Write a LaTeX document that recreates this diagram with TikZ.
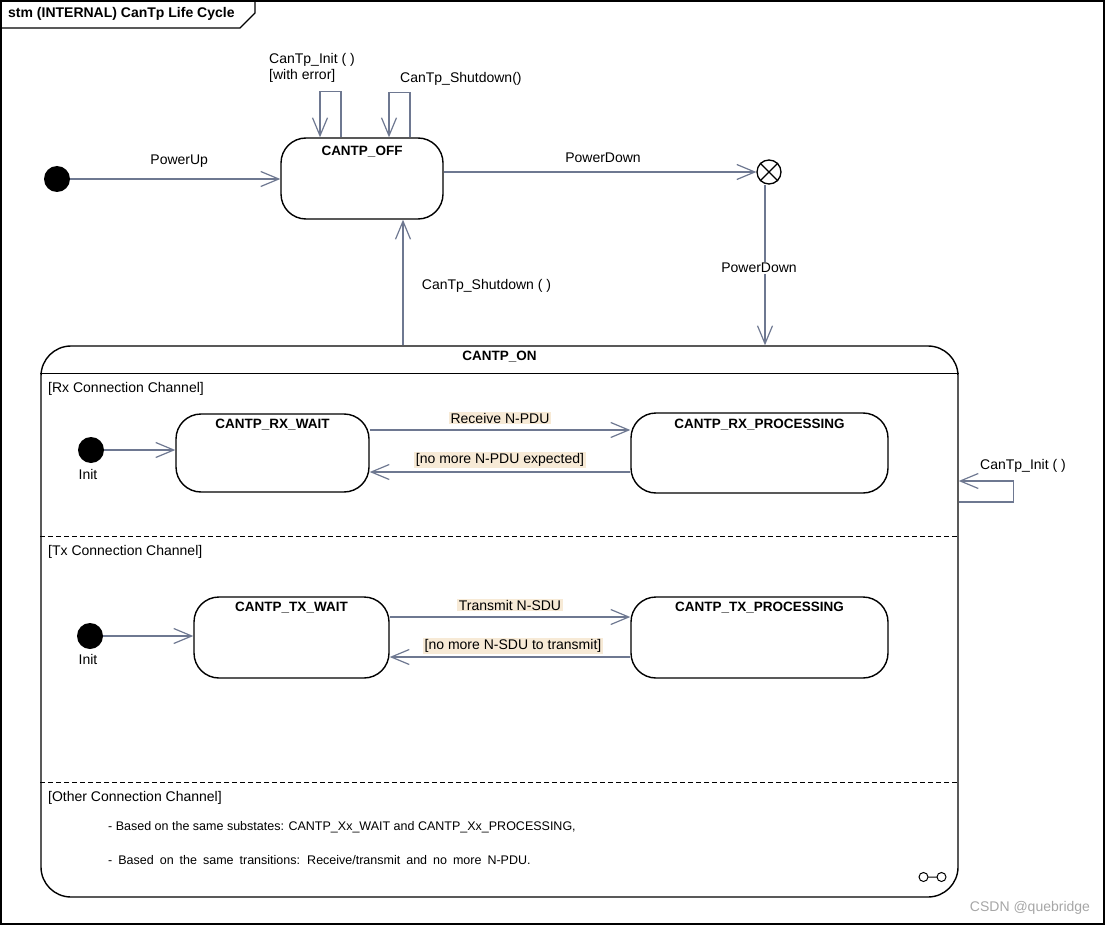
\documentclass[tikz,border=0pt]{standalone}
\usepackage{fontspec}
\setmainfont{Liberation Sans}
\usetikzlibrary{arrows.meta}
\definecolor{linkgray}{HTML}{6E7891}
\definecolor{guardbg}{HTML}{F7EAD6}

\begin{document}
\begin{tikzpicture}[x=1pt,y=-1pt,
  every node/.style={font=\fontsize{14}{16}\selectfont},
  state/.style={draw,line width=1.4pt,rounded corners=25pt,inner sep=0pt},
  sttitle/.style={anchor=north,inner sep=0pt,yshift=-6pt,font=\fontsize{13.5}{16}\selectfont\bfseries},
  init/.style={circle,fill,inner sep=0pt,minimum size=26pt},
  trans/.style={draw=linkgray,line width=1.2pt,-{Straight Barb[length=18pt,width=15pt]}},
  guard/.style={fill=guardbg,inner xsep=2pt,inner ysep=1pt},
  region/.style={anchor=west,inner sep=0pt}]
\useasboundingbox (0,0) rectangle (1105,925);

% frame
\draw[line width=1.3pt] (1,1) rectangle (1104,924);
\draw[line width=1.3pt] (1,28) -- (240,28) -- (255,13) -- (255,1);
\node[anchor=west,inner sep=0pt,font=\fontsize{14}{16}\selectfont\bfseries] (hdr) at (8,14) {stm (INTERNAL) CanTp Life Cycle};

% top level
\node[init] (start) at (57,179) {};
\node[state,minimum width=162pt,minimum height=81pt] (off) at (362,178.5) {};
\node[sttitle,yshift=-3pt] (off_t) at (off.north) {CANTP\_OFF};
\node[circle,draw,line width=1.3pt,inner sep=0pt,minimum size=24pt] (fin) at (769,172) {};
\draw[line width=1.1pt] (fin.north west) -- (fin.south east) (fin.north east) -- (fin.south west);

\node[state,rounded corners=30pt,minimum width=917pt,minimum height=551pt] (on) at (499.5,621.5) {};
\node[sttitle] (on_t) at (on.north) {CANTP\_ON};
\draw[line width=1.3pt] ([yshift=-28]on.north west) -- ([yshift=-28]on.north east);
\draw[dashed,dash pattern=on 5pt off 3pt,line width=1.1pt] ([yshift=-191]on.north west) -- ([yshift=-191]on.north east);
\draw[dashed,dash pattern=on 5pt off 3pt,line width=1.1pt] ([yshift=-437]on.north west) -- ([yshift=-437]on.north east);

\draw[trans] (start) -- (start -| off.west) node[midway,yshift=18pt,xshift=4pt] {PowerUp};
\path ([yshift=6.5]off.east) coordinate (off_e);
\draw[trans] (off_e) -- (fin) node[midway,yshift=14pt,xshift=3pt] {PowerDown};
\path ([xshift=-4]fin.south) coordinate (fin_s);
\draw[trans] (fin_s) -- (fin_s |- on.north) node[midway,fill=white,inner sep=1pt,yshift=-3pt,xshift=-6pt] {PowerDown};
\path ([xshift=-96.5]on.north) coordinate (on_n);
\draw[trans] (on_n) -- (on_n |- off.south) node[midway,anchor=west,xshift=15pt,yshift=-3pt] {CanTp\_Shutdown ( )};

% self transitions
\draw[trans] ([xshift=-21]off.north) -- ++(0,-46) -| ([xshift=-42]off.north);
\draw[trans] ([xshift=48]off.north) -- ++(0,-45) -| ([xshift=27]off.north);
\node[anchor=west,align=left,inner sep=0pt] (lbl_init) at (269,68) {CanTp\_Init ( )\\{}[with error]};
\node[anchor=west,inner sep=0pt] (lbl_shut) at (400,79) {CanTp\_Shutdown()};
\draw[trans] ([yshift=119.5]on.east) -- ++(55,0) |- ([yshift=140.5]on.east);
\node[anchor=west,inner sep=0pt] (lbl_init2) at (980,466) {CanTp\_Init ( )};

% Rx region
\node[region] (rx_r) at (48,389) {[Rx Connection Channel]};
\node[init] (rxinit) at (91,450) {};
\node (rxinit_l) at (88,474) {Init};
\node[state,minimum width=193pt,minimum height=78pt] (rxwait) at (272.5,453) {};
\node[sttitle] at (rxwait.north) {CANTP\_RX\_WAIT};
\node[state,minimum width=257pt,minimum height=80pt] (rxproc) at (759.5,453) {};
\node[sttitle,yshift=-1pt] at (rxproc.north) {CANTP\_RX\_PROCESSING};
\draw[trans] (rxinit) -- (rxinit -| rxwait.west);
\path ([yshift=23]rxwait.east) coordinate (rx_a) ([yshift=-19]rxproc.west) coordinate (rx_b);
\draw[trans] (rx_a) -- (rx_a -| rxproc.west) node[midway,guard,yshift=12pt] {Receive N-PDU};
\draw[trans] (rx_b) -- (rx_b -| rxwait.east) node[midway,guard,yshift=12pt] {[no more N-PDU expected]};

% Tx region
\node[region] (tx_r) at (48,552) {[Tx Connection Channel]};
\node[init] (txinit) at (90,636) {};
\node (txinit_l) at (88,659) {Init};
\node[state,minimum width=195pt,minimum height=81pt] (txwait) at (291.5,637.5) {};
\node[sttitle] at (txwait.north) {CANTP\_TX\_WAIT};
\node[state,minimum width=257pt,minimum height=81pt] (txproc) at (759.5,637.5) {};
\node[sttitle] at (txproc.north) {CANTP\_TX\_PROCESSING};
\draw[trans] (txinit) -- (txinit -| txwait.west);
\path ([yshift=20.5]txwait.east) coordinate (tx_a) ([yshift=-19.5]txproc.west) coordinate (tx_b);
\draw[trans] (tx_a) -- (tx_a -| txproc.west) node[midway,guard,yshift=12pt] {Transmit N-SDU};
\draw[trans] (tx_b) -- (tx_b -| txwait.east) node[midway,guard,yshift=11pt,xshift=3pt] {[no more N-SDU to transmit]};

% other region
\node[region] (oth_r) at (48,798) {[Other Connection Channel]};
\node[region,font=\fontsize{12.5}{15}\selectfont] (oth_1) at (108,827) {- Based on the same substates: CANTP\_Xx\_WAIT and CANTP\_Xx\_PROCESSING,};
\node[region,font=\fontsize{12.5}{15}\selectfont] (oth_2) at (108,860) {\spaceskip=6pt\relax - Based on the same transitions: Receive/transmit and no more N-PDU.};

% composite icon
\draw[line width=1pt] (923.5,877) circle[radius=4.5pt] (941.5,877) circle[radius=4.5pt] (928,877) -- (937,877);

\node[text=gray!70] (wm) at (1030,908) {CSDN @quebridge};
\end{tikzpicture}
\end{document}
